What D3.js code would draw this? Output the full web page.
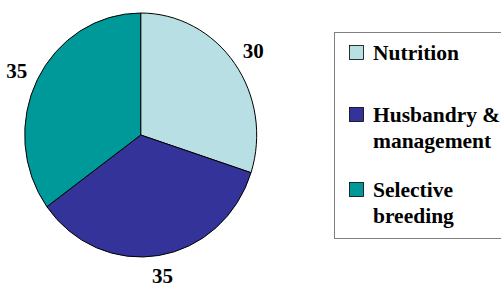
<!DOCTYPE html>
<html>
<head>
<meta charset="utf-8">
<script src="https://cdn.jsdelivr.net/npm/d3@7"></script>
<style>
  html, body { margin: 0; padding: 0; background: #fff; }
  svg { display: block; }
</style>
</head>
<body>
<svg id="chart" width="501" height="288"></svg>
<script>
// slice data, clockwise from 12 o'clock
const categories = ['Nutrition', 'Husbandry & management', 'Selective breeding'];
const values = [30, 35, 35];
const legendLines = [['Nutrition'], ['Husbandry &', 'management'], ['Selective', 'breeding']];
const colors = ['#b8e0e4', '#333399', '#009999'];

const FONT = 'Liberation Serif';
const cx = 140.7, cy = 135;
const rx = 116, ry = 122; // pie is drawn slightly taller than wide
const svg = d3.select('#chart');

const pie = d3.pie().sort(null).value((d) => d.v);
const arcs = pie(categories.map((c, i) => ({ c, v: values[i], color: colors[i] })));

const arc = d3.arc().innerRadius(0).outerRadius(100);

const g = svg.append('g')
  .attr('transform', `translate(${cx},${cy}) scale(${rx / 100},${ry / 100})`);

g.selectAll('path')
  .data(arcs)
  .join('path')
  .attr('d', arc)
  .attr('fill', (d) => d.data.color)
  .attr('stroke', '#000')
  .attr('stroke-width', 1)
  .attr('vector-effect', 'non-scaling-stroke');

// value labels outside the pie
svg.append('g')
  .selectAll('text')
  .data(arcs)
  .join('text')
  .attr('x', (d) => cx + Math.sin((d.startAngle + d.endAngle) / 2) * rx * 1.2)
  .attr('y', (d) => cy - Math.cos((d.startAngle + d.endAngle) / 2) * ry * 1.17)
  .attr('dy', '0.35em')
  .attr('text-anchor', 'middle')
  .attr('font-family', FONT)
  .attr('font-weight', 'bold')
  .attr('font-size', 21)
  .text((d) => d.data.v);

// legend
const legend = svg.append('g');
legend.append('rect')
  .attr('x', 334.5).attr('y', 32.5)
  .attr('width', 200).attr('height', 206)
  .attr('fill', '#fff')
  .attr('stroke', '#808080')
  .attr('stroke-width', 1);

const legendY = [60, 122, 197]; // first-line baselines
const lineH = 26;
const item = legend.selectAll('g.item')
  .data(categories)
  .join('g')
  .attr('class', 'item')
  .attr('transform', (d, i) => `translate(0,${legendY[i]})`);

item.append('rect')
  .attr('x', 349.5).attr('y', -14.5)
  .attr('width', 14).attr('height', 14)
  .attr('fill', (d, i) => colors[i])
  .attr('stroke', '#000')
  .attr('stroke-width', 0.8);

item.append('text')
  .attr('font-family', FONT)
  .attr('font-weight', 'bold')
  .attr('font-size', 21.5)
  .selectAll('tspan')
  .data((d, i) => legendLines[i])
  .join('tspan')
  .attr('x', 373)
  .attr('y', (d, j) => j * lineH)
  .text((d) => d);
</script>
</body>
</html>
